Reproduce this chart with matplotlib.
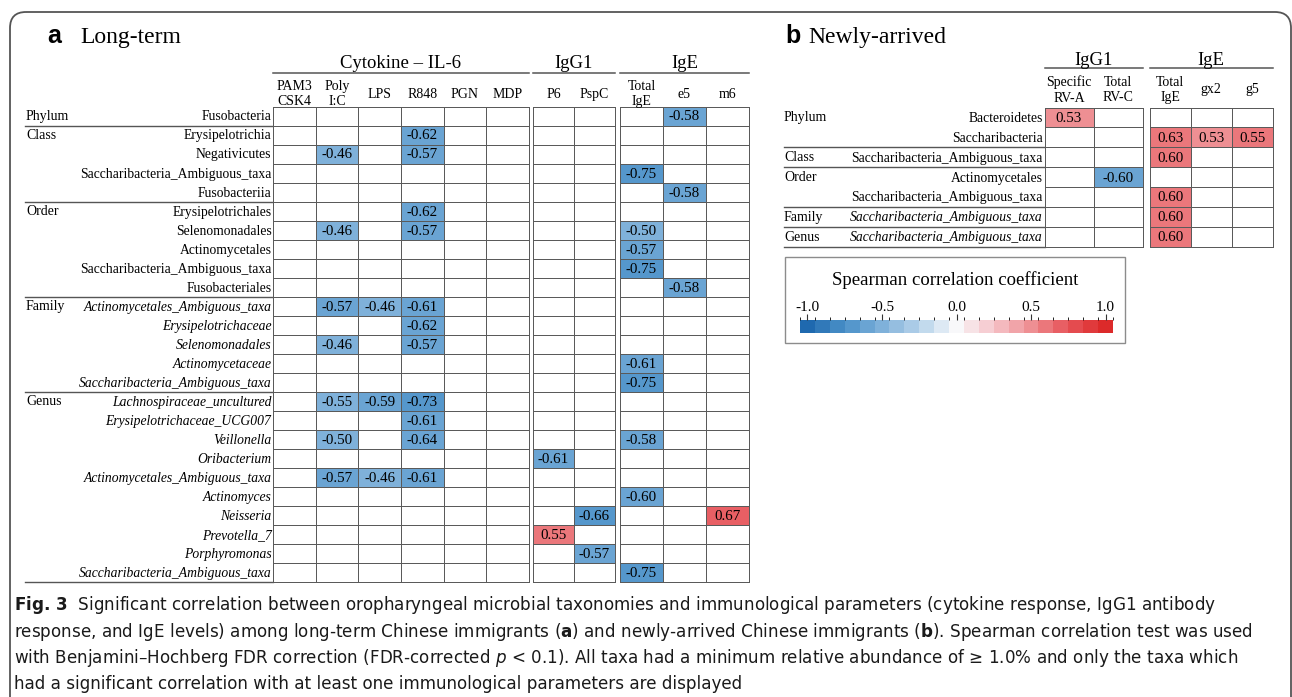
import numpy as np
import matplotlib.pyplot as plt
import matplotlib.transforms as mtransforms
from matplotlib.colors import LinearSegmentedColormap, BoundaryNorm
from matplotlib.patches import FancyBboxPatch, Rectangle
from matplotlib.cm import ScalarMappable

plt.rcParams['font.family'] = ['Liberation Serif', 'DejaVu Serif']
plt.rcParams['axes.unicode_minus'] = False
plt.rcParams['mathtext.fontset'] = 'dejavusans'

W, H = 1292, 697
nan = np.nan

# =============================================================================
# data - panel a (long-term)
# =============================================================================
a_ranks = ['Phylum', 'Class', 'Order', 'Family', 'Genus']
a_rank_sizes = [1, 4, 5, 5, 10]
a_taxa = ['Fusobacteria',
          'Erysipelotrichia', 'Negativicutes', 'Saccharibacteria_Ambiguous_taxa', 'Fusobacteriia',
          'Erysipelotrichales', 'Selenomonadales', 'Actinomycetales',
          'Saccharibacteria_Ambiguous_taxa', 'Fusobacteriales',
          'Actinomycetales_Ambiguous_taxa', 'Erysipelotrichaceae', 'Selenomonadales',
          'Actinomycetaceae', 'Saccharibacteria_Ambiguous_taxa',
          'Lachnospiraceae_uncultured', 'Erysipelotrichaceae_UCG007', 'Veillonella',
          'Oribacterium', 'Actinomycetales_Ambiguous_taxa', 'Actinomyces', 'Neisseria',
          'Prevotella_7', 'Porphyromonas', 'Saccharibacteria_Ambiguous_taxa']

a_cyto_cols = ['PAM3\nCSK4', 'Poly\nI:C', 'LPS', 'R848', 'PGN', 'MDP']
a_igg_cols = ['P6', 'PspC']
a_ige_cols = ['Total\nIgE', 'e5', 'm6']

a_cyto = [[nan, nan, nan, nan, nan, nan],
          [nan, nan, nan, -0.62, nan, nan],
          [nan, -0.46, nan, -0.57, nan, nan],
          [nan, nan, nan, nan, nan, nan],
          [nan, nan, nan, nan, nan, nan],
          [nan, nan, nan, -0.62, nan, nan],
          [nan, -0.46, nan, -0.57, nan, nan],
          [nan, nan, nan, nan, nan, nan],
          [nan, nan, nan, nan, nan, nan],
          [nan, nan, nan, nan, nan, nan],
          [nan, -0.57, -0.46, -0.61, nan, nan],
          [nan, nan, nan, -0.62, nan, nan],
          [nan, -0.46, nan, -0.57, nan, nan],
          [nan, nan, nan, nan, nan, nan],
          [nan, nan, nan, nan, nan, nan],
          [nan, -0.55, -0.59, -0.73, nan, nan],
          [nan, nan, nan, -0.61, nan, nan],
          [nan, -0.50, nan, -0.64, nan, nan],
          [nan, nan, nan, nan, nan, nan],
          [nan, -0.57, -0.46, -0.61, nan, nan],
          [nan, nan, nan, nan, nan, nan],
          [nan, nan, nan, nan, nan, nan],
          [nan, nan, nan, nan, nan, nan],
          [nan, nan, nan, nan, nan, nan],
          [nan, nan, nan, nan, nan, nan]]

a_igg = [[nan, nan]] * 18 + [[-0.61, nan], [nan, nan], [nan, nan],
                             [nan, -0.66], [0.55, nan], [nan, -0.57], [nan, nan]]

a_ige = [[nan, -0.58, nan],
         [nan, nan, nan],
         [nan, nan, nan],
         [-0.75, nan, nan],
         [nan, -0.58, nan],
         [nan, nan, nan],
         [-0.50, nan, nan],
         [-0.57, nan, nan],
         [-0.75, nan, nan],
         [nan, -0.58, nan],
         [nan, nan, nan],
         [nan, nan, nan],
         [nan, nan, nan],
         [-0.61, nan, nan],
         [-0.75, nan, nan],
         [nan, nan, nan],
         [nan, nan, nan],
         [-0.58, nan, nan],
         [nan, nan, nan],
         [nan, nan, nan],
         [-0.60, nan, nan],
         [nan, nan, 0.67],
         [nan, nan, nan],
         [nan, nan, nan],
         [-0.75, nan, nan]]

# =============================================================================
# data - panel b (newly-arrived)
# =============================================================================
b_ranks = ['Phylum', 'Class', 'Order', 'Family', 'Genus']
b_rank_sizes = [2, 1, 2, 1, 1]
b_taxa = ['Bacteroidetes', 'Saccharibacteria', 'Saccharibacteria_Ambiguous_taxa',
          'Actinomycetales', 'Saccharibacteria_Ambiguous_taxa',
          'Saccharibacteria_Ambiguous_taxa', 'Saccharibacteria_Ambiguous_taxa']
b_igg_cols = ['Specific\nRV-A', 'Total\nRV-C']
b_ige_cols = ['Total\nIgE', 'gx2', 'g5']
b_igg = [[0.53, nan], [nan, nan], [nan, nan], [nan, -0.60], [nan, nan], [nan, nan], [nan, nan]]
b_ige = [[nan, nan, nan], [0.63, 0.53, 0.55], [0.60, nan, nan], [nan, nan, nan],
         [0.60, nan, nan], [0.60, nan, nan], [0.60, nan, nan]]

cbar_ticks = [-1.0, -0.5, 0.0, 0.5, 1.0]

# =============================================================================
# style
# =============================================================================
cmap = LinearSegmentedColormap.from_list(
    'rb', ['#1f69af', '#4b91c8', '#7fb1da', '#b5d2ea', '#f8f8fa',
           '#f5c4c9', '#ee8f93', '#e65358', '#dc2a2a'], N=21)
cmap.set_bad('white')
norm = BoundaryNorm(np.linspace(-1.05, 1.05, 22), cmap.N)
grid_col = '#5a5a5a'
line_col = '#555555'

fig = plt.figure(figsize=(W / 100, H / 100), dpi=100)
bg = fig.add_axes([0, 0, 1, 1])
bg.set_xlim(0, W)
bg.set_ylim(H, 0)
bg.axis('off')

bg.add_patch(FancyBboxPatch((10, 12), 1281, 720, boxstyle='round,pad=0,rounding_size=16',
                            ec=line_col, fc='none', lw=1.3))


def block(x0, x1, y0, y1, vals, cols, group, hdr_base, hdr_line, col_y):
    arr = np.array(vals, dtype=float)
    ax = fig.add_axes([x0 / W, 1 - y1 / H, (x1 - x0) / W, (y1 - y0) / H])
    m = ax.pcolormesh(np.ma.masked_invalid(arr), cmap=cmap, norm=norm,
                      edgecolors=grid_col, linewidth=0.7)
    m.set_clip_on(False)
    nr, nc = arr.shape
    ax.set_xlim(0, nc)
    ax.set_ylim(nr, 0)
    ax.axis('off')
    for i, j in np.argwhere(np.isfinite(arr)):
        ax.text(j + 0.5, i + 0.54, f'{arr[i, j]:.2f}', ha='center', va='center', fontsize=10.8)
    for j, c in enumerate(cols):
        ax.text(j + 0.5, -col_y, c, ha='center', va='center', fontsize=10,
                linespacing=1.25, clip_on=False)
    ax.text(nc / 2, -hdr_base, group, ha='center', va='baseline', fontsize=13.5, clip_on=False)
    ax.plot([0, nc], [-hdr_line, -hdr_line], color=line_col, lw=1.1, clip_on=False)
    return ax


def labels(ax, taxa, ranks, sizes, x_rank, x_lab, x_line0, x_line1):
    tr = mtransforms.blended_transform_factory(bg.transData, ax.transData)
    start = 0
    for rk, n in zip(ranks, sizes):
        bg.text(x_rank, start + 0.5, rk, transform=tr, ha='left', va='center', fontsize=10)
        for i in range(start, start + n):
            style = 'italic' if rk in ('Family', 'Genus') else 'normal'
            bg.text(x_lab, i + 0.54, taxa[i], transform=tr, ha='right', va='center',
                    fontsize=9.8, style=style)
        start += n
        bg.plot([x_line0, x_line1], [start, start], transform=tr, color=line_col, lw=1.0)


# ---- panel a ----
ay0, ay1 = 106.7, 582.0
ax_c = block(273, 529, ay0, ay1, a_cyto, a_cyto_cols, 'Cytokine \u2013 IL-6', 2.03, 1.79, 0.66)
block(533, 615, ay0, ay1, a_igg, a_igg_cols, 'IgG1', 2.03, 1.79, 0.66)
block(620, 749, ay0, ay1, a_ige, a_ige_cols, 'IgE', 2.03, 1.79, 0.66)
labels(ax_c, a_taxa, a_ranks, a_rank_sizes, 26, 271.5, 25, 273)

bg.text(47, 43, 'a', fontsize=18, fontweight='bold', family=['Liberation Sans', 'DejaVu Sans'],
        va='baseline')
bg.text(80, 43, 'Long-term', fontsize=17, va='baseline')

# ---- panel b ----
by0, by1 = 107.5, 247.0
ax_b = block(1044.5, 1142.5, by0, by1, b_igg, b_igg_cols, 'IgG1', 2.15, 1.96, 0.88)
block(1149.5, 1273, by0, by1, b_ige, b_ige_cols, 'IgE', 2.15, 1.96, 0.88)
labels(ax_b, b_taxa, b_ranks, b_rank_sizes, 784, 1043, 784, 1044.5)

bg.text(785, 43, 'b', fontsize=18, fontweight='bold', family=['Liberation Sans', 'DejaVu Sans'],
        va='baseline')
bg.text(808, 43, 'Newly-arrived', fontsize=17, va='baseline')

# ---- legend ----
bg.add_patch(Rectangle((785, 257), 340, 86, ec='#8c8c8c', fc='none', lw=1.0))
bg.text(955, 285, 'Spearman correlation coefficient', ha='center', va='baseline', fontsize=13.5)
cax = fig.add_axes([800 / W, 1 - 333 / H, 313 / W, 13.5 / H])
cb = fig.colorbar(ScalarMappable(norm=norm, cmap=cmap), cax=cax, orientation='horizontal',
                  ticks=cbar_ticks, ticklocation='top')
cb.outline.set_visible(False)
cax.set_xticklabels([f'{t:.1f}' for t in cbar_ticks])
cax.tick_params(length=4, width=0.8, pad=0, labelsize=11, color='#333333')

# ---- caption ----
cap = [r'$\mathbf{Fig.\,3}$  Significant correlation between oropharyngeal microbial taxonomies '
       r'and immunological parameters (cytokine response, IgG1 antibody',
       r'response, and IgE levels) among long-term Chinese immigrants ($\mathbf{a}$) and '
       r'newly-arrived Chinese immigrants ($\mathbf{b}$). Spearman correlation test was used',
       'with Benjamini\u2013Hochberg FDR correction (FDR-corrected $\\mathit{p}$ < 0.1). All taxa '
       'had a minimum relative abundance of \u2265 1.0% and only the taxa which',
       'had a significant correlation with at least one immunological parameters are displayed']
cap_y = [610, 637, 663, 689]
for s, y in zip(cap, cap_y):
    bg.text(14, y, s, fontsize=12.1, family=['DejaVu Sans'], color='#1a1a1a',
            va='baseline')

fig.savefig('out.png', dpi=100)
